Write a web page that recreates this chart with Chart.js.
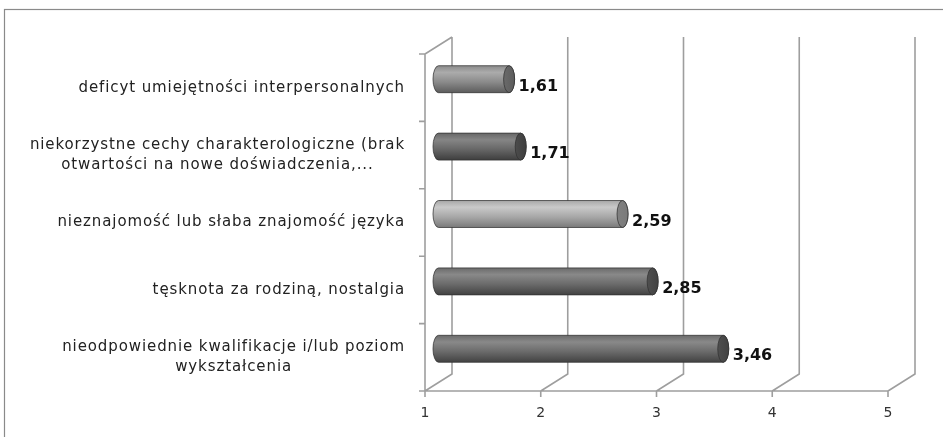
<!DOCTYPE html>
<html>
<head>
<meta charset="utf-8">
<script src="https://cdn.jsdelivr.net/npm/chart.js@4/dist/chart.umd.min.js"></script>
<style>
  html, body { margin: 0; padding: 0; background: #fff; }
  #wrap { position: relative; width: 943px; height: 437px; }
  canvas { display: block; }
</style>
</head>
<body>
<div id="wrap"><canvas id="c" width="943" height="437"></canvas></div>
<script>
// Category labels (each entry is a list of text lines)
const categories = [
  ['deficyt umiejętności interpersonalnych'],
  ['niekorzystne cechy charakterologiczne (brak', 'otwartości na nowe doświadczenia,...'],
  ['nieznajomość lub słaba znajomość języka'],
  ['tęsknota za rodziną, nostalgia'],
  ['nieodpowiednie kwalifikacje i/lub poziom', 'wykształcenia']
];
// Mean scores
const values = [1.61, 1.71, 2.59, 2.85, 3.46];
// Value axis ticks
const xTicks = [1, 2, 3, 4, 5];

// Cylinder tones per bar: [highlight, body, shadow, cap]
const tones = [
  ['#ababab', '#8b8b8b', '#5c5c5c', '#6a6a6a'],
  ['#858585', '#676767', '#3e3e3e', '#4c4c4c'],
  ['#c9c9c9', '#a8a8a8', '#7a7a7a', '#818181'],
  ['#898989', '#6b6b6b', '#424242', '#4f4f4f'],
  ['#898989', '#6b6b6b', '#424242', '#4f4f4f']
];

const DEPTH_X = 27, DEPTH_Y = -17;
const GRID = '#9e9e9e';
const fmt = v => v.toFixed(2).replace('.', ',');

// Box frame, 3D walls, grid lines and axis ticks (behind the bars)
const wallsPlugin = {
  id: 'walls',
  beforeDatasetsDraw(chart) {
    const { ctx, chartArea: a, scales: { x } } = chart;
    ctx.save();
    ctx.strokeStyle = GRID;
    ctx.lineWidth = 1.6;
    ctx.beginPath();
    // left wall edge + top diagonal
    ctx.moveTo(a.left, a.bottom);
    ctx.lineTo(a.left, a.top);
    ctx.lineTo(a.left + DEPTH_X, a.top + DEPTH_Y);
    // floor front edge
    ctx.moveTo(a.left, a.bottom);
    ctx.lineTo(x.getPixelForValue(xTicks[xTicks.length - 1]), a.bottom);
    xTicks.forEach(v => {
      const px = x.getPixelForValue(v);
      ctx.moveTo(px, a.bottom);
      ctx.lineTo(px + DEPTH_X, a.bottom + DEPTH_Y);
      ctx.lineTo(px + DEPTH_X, a.top + DEPTH_Y);
      // tick mark below the axis
      ctx.moveTo(px, a.bottom);
      ctx.lineTo(px, a.bottom + 6);
    });
    // category separators on the left edge
    const n = categories.length;
    for (let i = 0; i <= n; i++) {
      const py = a.top + (a.bottom - a.top) * i / n;
      ctx.moveTo(a.left - 6, py);
      ctx.lineTo(a.left, py);
    }
    ctx.stroke();
    ctx.restore();
  },
  afterDraw(chart) {
    const { ctx } = chart;
    ctx.save();
    ctx.strokeStyle = '#8a8a8a';
    ctx.lineWidth = 1.2;
    ctx.strokeRect(4.5, 9.5, 1000, 500);
    ctx.restore();
  }
};

// Cylinders drawn from the bar elements' geometry, plus value labels
const cylinderPlugin = {
  id: 'cylinders',
  afterDatasetsDraw(chart) {
    const { ctx } = chart;
    const meta = chart.getDatasetMeta(0);
    ctx.save();
    meta.data.forEach((bar, i) => {
      const { x, y, base, height } = bar.getProps(['x', 'y', 'base', 'height'], true);
      const r = height / 2;
      const rx = 5.5;
      const cy = y + DEPTH_Y / 2;
      const x0 = base + DEPTH_X / 2;
      const x1 = x + DEPTH_X / 2;
      const t = tones[i];
      const g = ctx.createLinearGradient(0, cy - r, 0, cy + r);
      g.addColorStop(0, t[1]);
      g.addColorStop(0.25, t[0]);
      g.addColorStop(0.6, t[1]);
      g.addColorStop(1, t[2]);
      ctx.beginPath();
      ctx.moveTo(x0, cy - r);
      ctx.lineTo(x1, cy - r);
      ctx.ellipse(x1, cy, rx, r, 0, -Math.PI / 2, Math.PI / 2);
      ctx.lineTo(x0, cy + r);
      ctx.ellipse(x0, cy, rx, r, 0, Math.PI / 2, Math.PI * 1.5);
      ctx.closePath();
      ctx.fillStyle = g;
      ctx.fill();
      ctx.strokeStyle = 'rgba(50,50,50,0.75)';
      ctx.lineWidth = 1;
      ctx.stroke();
      // end cap
      const gc = ctx.createLinearGradient(x1 - rx, 0, x1 + rx, 0);
      gc.addColorStop(0, t[3]);
      gc.addColorStop(1, t[2]);
      ctx.beginPath();
      ctx.ellipse(x1, cy, rx, r, 0, 0, Math.PI * 2);
      ctx.fillStyle = gc;
      ctx.fill();
      ctx.stroke();
      // value label
      ctx.fillStyle = '#111';
      ctx.font = 'bold 16px "DejaVu Sans"';
      ctx.textAlign = 'left';
      ctx.textBaseline = 'middle';
      ctx.fillText(fmt(values[i]), x1 + rx + 4, y - 1);
    });
    ctx.restore();
  }
};

// Category labels: block right-aligned to the axis, lines centred within the block
const catLabelPlugin = {
  id: 'catLabels',
  afterDraw(chart) {
    const { ctx, chartArea: a, scales: { y } } = chart;
    ctx.save();
    ctx.font = '15px "DejaVu Sans"';
    ctx.letterSpacing = '0.9px';
    ctx.fillStyle = '#222';
    ctx.textBaseline = 'middle';
    ctx.textAlign = 'center';
    const lineH = 20;
    const right = a.left - 20;
    categories.forEach((lines, i) => {
      const cy = y.getPixelForValue(i);
      const w = Math.max(...lines.map(l => ctx.measureText(l).width));
      const cx = right - w / 2;
      lines.forEach((l, k) => {
        ctx.fillText(l, cx, cy + (k - (lines.length - 1) / 2) * lineH);
      });
    });
    ctx.restore();
  }
};

new Chart(document.getElementById('c'), {
  type: 'bar',
  data: {
    labels: categories,
    datasets: [{
      data: values,
      base: 1,
      backgroundColor: 'rgba(0,0,0,0)',
      borderWidth: 0,
      barPercentage: 0.4,
      categoryPercentage: 1
    }]
  },
  options: {
    indexAxis: 'y',
    responsive: false,
    animation: false,
    events: [],
    layout: { padding: { top: 54, right: 55, left: 0, bottom: 0 } },
    plugins: { legend: { display: false }, tooltip: { enabled: false } },
    scales: {
      x: {
        min: 1, max: 5,
        afterBuildTicks(scale) { scale.ticks = xTicks.map(v => ({ value: v })); },
        afterFit(scale) { scale.height = 46; },
        grid: { display: false, drawTicks: false },
        border: { display: false },
        ticks: {
          padding: 14,
          color: '#333',
          font: { family: 'DejaVu Sans', size: 14 }
        }
      },
      y: {
        afterFit(scale) { scale.width = 425; },
        grid: { display: false, drawTicks: false },
        border: { display: false },
        ticks: { display: false }
      }
    }
  },
  plugins: [wallsPlugin, cylinderPlugin, catLabelPlugin]
});
</script>
</body>
</html>
